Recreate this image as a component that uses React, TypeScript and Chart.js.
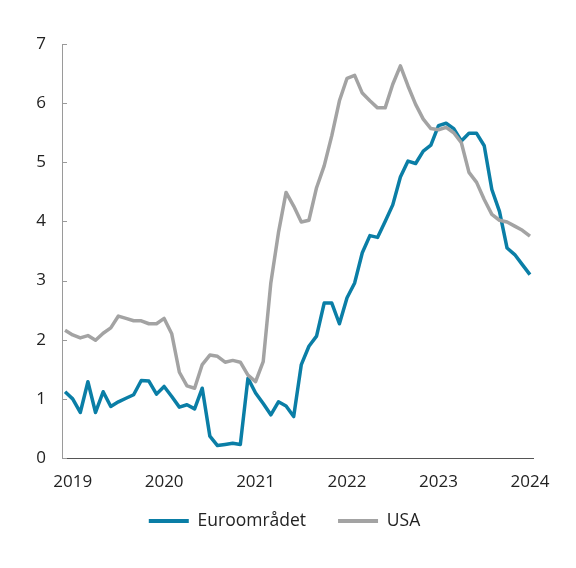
import React, { useEffect, useRef } from 'react';
import { Chart, registerables } from 'chart.js';

Chart.register(...registerables);

const yearLabels = ['2019', '2020', '2021', '2022', '2023', '2024'];
const yearTickIndex = [1, 13, 25, 37, 49, 61];
const yTicks = [0, 1, 2, 3, 4, 5, 6, 7];

const seriesNames = ['Euroområdet', 'USA'];

const euroValues = [
  1.12, 1.0, 0.77, 1.29, 0.77, 1.12, 0.87, 0.95, 1.01, 1.07, 1.31, 1.3,
  1.08, 1.21, 1.04, 0.86, 0.9, 0.83, 1.18, 0.37, 0.21, 0.23, 0.25, 0.23,
  1.35, 1.1, 0.92, 0.73, 0.95, 0.88, 0.7, 1.58, 1.89, 2.06, 2.62, 2.62,
  2.27, 2.71, 2.96, 3.47, 3.76, 3.73, 4.0, 4.28, 4.75, 5.02, 4.98, 5.19,
  5.29, 5.62, 5.66, 5.57, 5.36, 5.49, 5.49, 5.28, 4.54, 4.17, 3.55, 3.44,
  3.27, 3.1,
];

const usaValues = [
  2.16, 2.08, 2.03, 2.07, 1.99, 2.11, 2.2, 2.4, 2.36, 2.32, 2.32, 2.27,
  2.27, 2.36, 2.1, 1.45, 1.22, 1.18, 1.58, 1.74, 1.72, 1.62, 1.65, 1.62,
  1.4, 1.29, 1.63, 2.96, 3.81, 4.49, 4.26, 3.99, 4.02, 4.57, 4.94, 5.45,
  6.04, 6.42, 6.47, 6.17, 6.04, 5.92, 5.92, 6.32, 6.63, 6.29, 5.98, 5.73,
  5.57, 5.55, 5.59, 5.5, 5.33, 4.83, 4.66, 4.37, 4.12, 4.02, 3.99, 3.92,
  3.85, 3.75,
];

const EURO_COLOR = '#0a7ea6';
const USA_COLOR = '#a3a3a3';
const TEXT_COLOR = '#222222';
const FONT = '"Open Sans", "DejaVu Sans", sans-serif';

const innerTicks = {
  id: 'innerTicks',
  beforeDatasetsDraw(chart: any) {
    const y = chart.scales.y;
    const ctx = chart.ctx;
    const x0 = chart.chartArea.left;
    ctx.save();
    ctx.strokeStyle = '#9a9a9a';
    ctx.lineWidth = 1;
    y.ticks.forEach((t: any) => {
      const py = Math.round(y.getPixelForValue(t.value)) + 0.5;
      ctx.beginPath();
      ctx.moveTo(x0, py);
      ctx.lineTo(x0 + 5, py);
      ctx.stroke();
    });
    ctx.restore();
  },
};

const LEGEND_SHIFT = 12.75;
const shiftLegend = {
  id: 'shiftLegend',
  afterLayout(chart: any) {
    const l = chart.legend;
    if (l) {
      l.top -= LEGEND_SHIFT;
      l.bottom -= LEGEND_SHIFT;
    }
  },
};

export default function App() {
  const canvasRef = useRef<HTMLCanvasElement | null>(null);

  useEffect(() => {
    document.body.style.margin = '0';
    const canvas = canvasRef.current;
    if (!canvas) return;

    const toPoints = (vals: number[]) => vals.map((v, i) => ({ x: i, y: v }));

    const chart = new Chart(canvas, {
      type: 'line',
      data: {
        datasets: [
          {
            label: seriesNames[0],
            data: toPoints(euroValues),
            borderColor: EURO_COLOR,
            backgroundColor: EURO_COLOR,
            borderWidth: 3.5,
            pointRadius: 0,
            tension: 0,
            borderJoinStyle: 'round',
            order: 1,
          },
          {
            label: seriesNames[1],
            data: toPoints(usaValues),
            borderColor: USA_COLOR,
            backgroundColor: USA_COLOR,
            borderWidth: 3.5,
            pointRadius: 0,
            tension: 0,
            borderJoinStyle: 'round',
            order: 0,
          },
        ],
      },
      options: {
        animation: false,
        responsive: false,
        maintainAspectRatio: false,
        devicePixelRatio: 1,
        layout: { padding: { left: 36, right: 43, top: 44, bottom: 15.5 } },
        plugins: {
          tooltip: { enabled: false },
          legend: {
            display: true,
            position: 'bottom',
            labels: {
              boxWidth: 40,
              boxHeight: 4,
              padding: 32,
              color: TEXT_COLOR,
              font: { family: FONT, size: 17.5 },
              generateLabels: (c: any) =>
                c.data.datasets.map((ds: any, i: number) => ({
                  text: ds.label,
                  fillStyle: ds.borderColor,
                  strokeStyle: ds.borderColor,
                  lineWidth: 0,
                  hidden: false,
                  datasetIndex: i,
                  fontColor: TEXT_COLOR,
                })),
            },
          },
        },
        scales: {
          x: {
            type: 'linear',
            min: -0.4,
            max: 61.4,
            afterBuildTicks: (scale: any) => {
              scale.ticks = yearTickIndex.map((v) => ({ value: v }));
            },
            afterFit: (scale: any) => {
              scale.height = 35;
              scale.paddingLeft = 0;
              scale.paddingRight = 0;
            },
            ticks: {
              autoSkip: false,
              maxRotation: 0,
              padding: 21,
              color: TEXT_COLOR,
              font: { family: FONT, size: 17, lineHeight: '7px' },
              callback: (value: any) => {
                const idx = yearTickIndex.indexOf(Number(value));
                return idx >= 0 ? yearLabels[idx] : '';
              },
            },
            grid: { display: true, drawOnChartArea: false, drawTicks: false },
            border: { display: true, color: '#555555', width: 1 },
          },
          y: {
            type: 'linear',
            min: 0,
            max: 7,
            afterBuildTicks: (scale: any) => {
              scale.ticks = yTicks.map((v) => ({ value: v }));
            },
            afterFit: (scale: any) => {
              scale.width = 26;
              scale.paddingTop = 0;
              scale.paddingBottom = 0;
            },
            ticks: {
              padding: 16,
              color: TEXT_COLOR,
              font: { family: FONT, size: 17 },
              callback: (value: any) => String(value),
            },
            grid: { display: true, drawOnChartArea: false, drawTicks: false },
            border: { display: true, color: '#9a9a9a', width: 1 },
          },
        },
      },
      plugins: [innerTicks, shiftLegend],
    } as any);

    return () => chart.destroy();
  }, []);

  return (
    <div style={{ width: 576, height: 568 }}>
      <canvas ref={canvasRef} width={576} height={568} style={{ display: 'block' }} />
    </div>
  );
}
